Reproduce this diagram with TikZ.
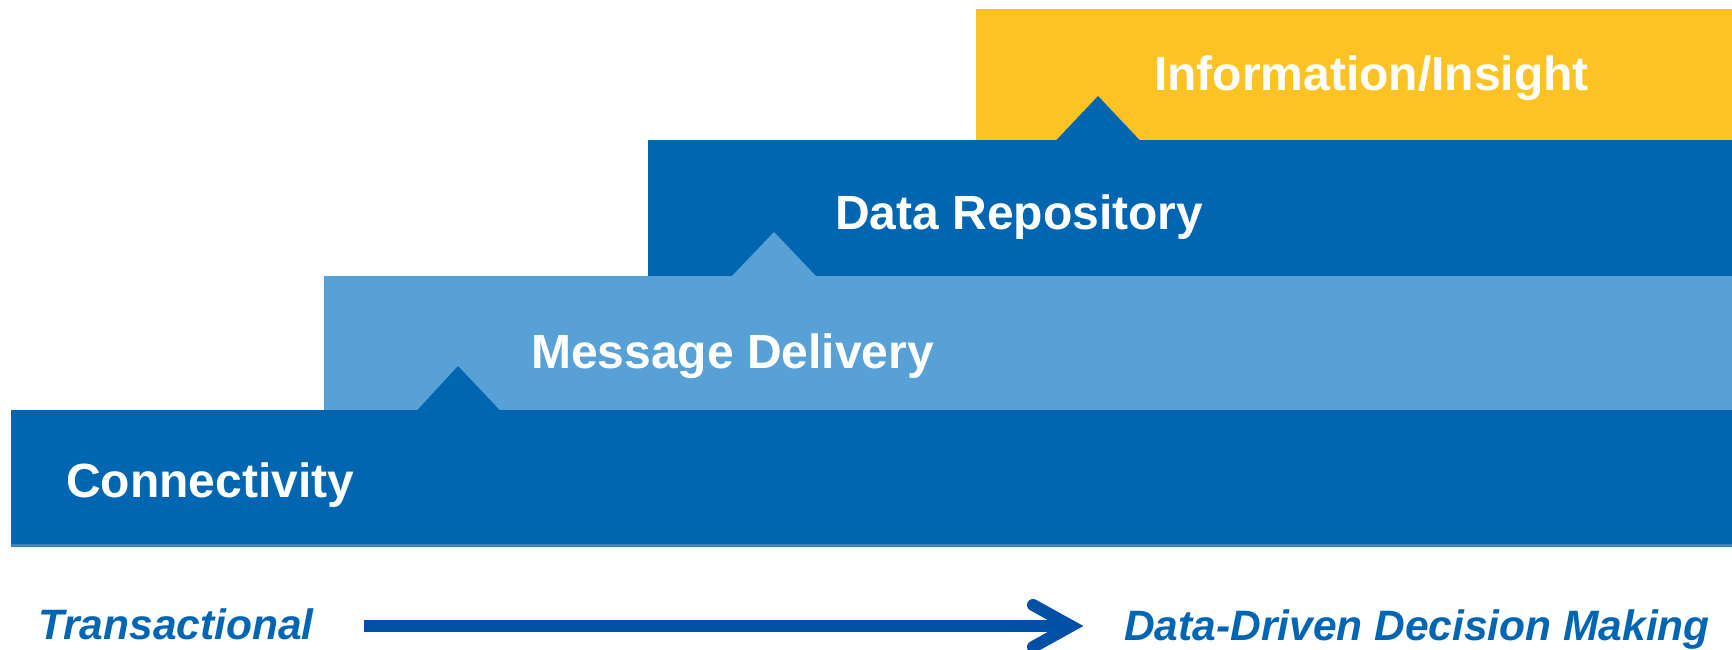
\documentclass[tikz,border=0pt]{standalone}
\usepackage{fontspec}
\setmainfont{Liberation Sans}
\definecolor{darkband}{HTML}{0066B1}
\definecolor{lightband}{HTML}{57A1D6}
\definecolor{yellowband}{HTML}{FDC325}
\definecolor{arrowblue}{HTML}{0050A6}
\definecolor{textblue}{HTML}{0066B3}
\definecolor{edgeblue}{HTML}{3A84C0}
\tikzset{
  bandlabel/.style={anchor=base west, inner sep=0pt, text=white, font=\fontsize{48}{58}\selectfont\bfseries},
  axislabel/.style={anchor=base west, inner sep=0pt, text=textblue, font=\fontsize{42.5}{50}\selectfont\bfseries\itshape},
  axisline/.style={draw=arrowblue, line width=12pt},
}
\begin{document}
\begin{tikzpicture}[x=1pt,y=-1pt]
\useasboundingbox (0,0) rectangle (1732,650);
% bands
\fill[yellowband] (976,9) rectangle (1732,140);
\fill[darkband] (648,140) rectangle (1732,275.5);
\fill[lightband] (324,275.5) rectangle (1732,410);
\fill[darkband] (11,410) rectangle (1732,545);
\fill[edgeblue] (11,544) rectangle (1732,547);
% notches
\fill[darkband] (417,410.5) -- (458,366) -- (500,410.5) -- cycle;
\fill[lightband] (732,276) -- (774,232) -- (816,276) -- cycle;
\fill[darkband] (1056,140.5) -- (1098,96) -- (1140,140.5) -- cycle;
% labels
\node[bandlabel] (info) at (1154,90.7) {Information/Insight};
\node[bandlabel] (repo) at (835,229) {Data Repository};
\node[bandlabel] (msg) at (531,368) {Message Delivery};
\node[bandlabel] (conn) at (66,497) {Connectivity};
\node[axislabel] (trans) at (38,639) {Transactional};
\node[axislabel] (ddm) at (1124,640) {Data-Driven Decision Making};
% arrow
\coordinate (astart) at (364,626);
\coordinate (aend) at (1071,626);
\draw[axisline] (astart) -- (aend);
\draw[draw=arrowblue, line width=12pt, line cap=round, line join=miter]
  ([shift={(-38,-21)}]aend) -- (aend) -- ([shift={(-38,21)}]aend);
\end{tikzpicture}
\end{document}
